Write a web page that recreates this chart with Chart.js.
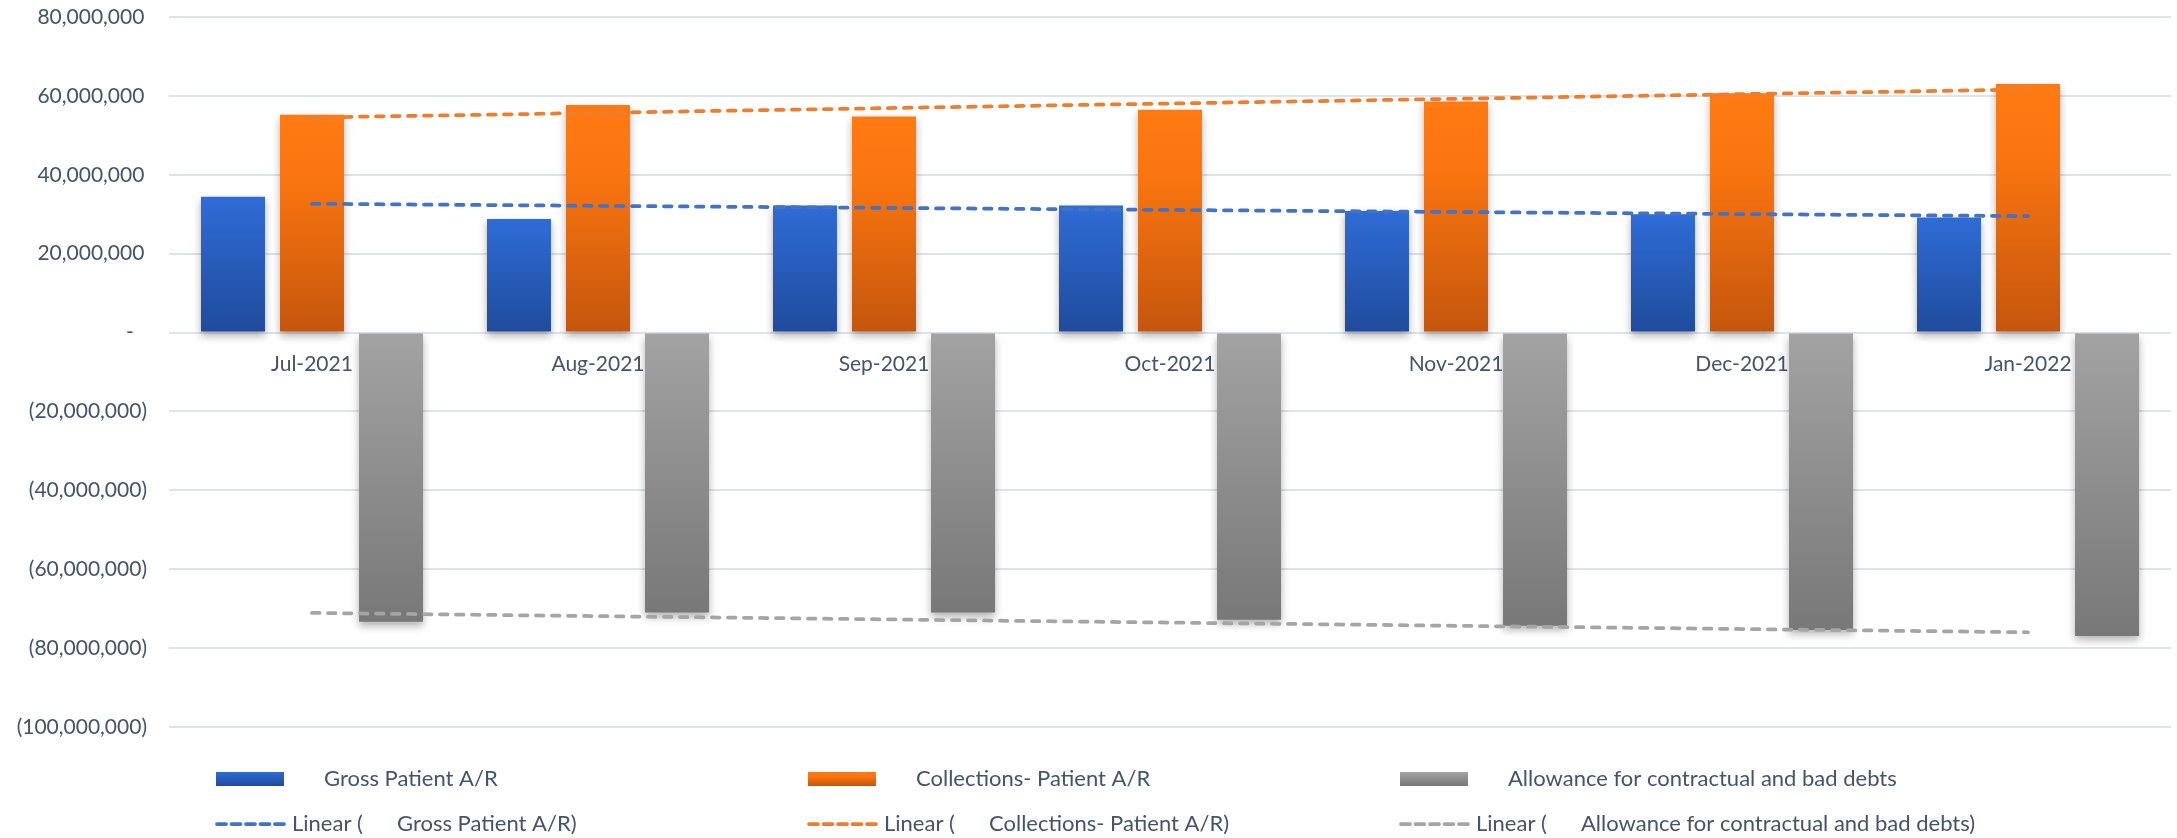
<!DOCTYPE html>
<html>
<head>
<meta charset="utf-8">
<title>Patient A/R</title>
<script src="https://cdn.jsdelivr.net/npm/chart.js@4.4.1/dist/chart.umd.min.js"></script>
<style>
  html, body { margin: 0; padding: 0; background: #ffffff; }
  #wrap { width: 2177px; height: 838px; }
</style>
</head>
<body>
<div id="wrap"><canvas id="chart" width="2177" height="838"></canvas></div>
<script>
// Monthly patient accounts receivable figures
const categories = ['Jul-2021', 'Aug-2021', 'Sep-2021', 'Oct-2021', 'Nov-2021', 'Dec-2021', 'Jan-2022'];
const grossAR = [34400000, 28800000, 32200000, 32200000, 30800000, 30000000, 29200000];
const collectionsAR = [55200000, 57700000, 54800000, 56500000, 58600000, 60700000, 63000000];
const allowance = [-73300000, -71000000, -71000000, -72800000, -74300000, -75400000, -76900000];

const seriesNames = ['Gross Patient A/R', 'Collections- Patient A/R', 'Allowance for contractual and bad debts'];

// Value axis range
const yMin = -100000000;
const yMax = 80000000;
const yStep = 20000000;

const TEXT = '#44546A';
const FONT = 'Lato, "Open Sans", "Liberation Sans", sans-serif';

// Least-squares linear trend over the category index
function linearTrend(values) {
  const n = values.length;
  let sx = 0, sy = 0, sxx = 0, sxy = 0;
  values.forEach((v, i) => { sx += i; sy += v; sxx += i * i; sxy += i * v; });
  const b = (n * sxy - sx * sy) / (n * sxx - sx * sx);
  const a = (sy - b * sx) / n;
  return values.map((_, i) => a + b * i);
}

const gradients = {
  blue:   [[0, '#2F6CD6'], [1, '#1F4B9C']],
  orange: [[0, '#FF7A12'], [0.3, '#FA7510'], [1, '#C4560D']],
  gray:   [[0, '#A3A3A3'], [1, '#787878']]
};

// Vertical gradient running from each bar's top edge to its bottom edge
function barFill(stops) {
  return (ctx) => {
    if (ctx.type !== 'data') return stops[0][1];
    const chart = ctx.chart;
    const y = chart.scales.y;
    if (!y || !chart.chartArea) return stops[0][1];
    const p1 = y.getPixelForValue(ctx.raw);
    const p0 = y.getPixelForValue(0);
    const top = Math.min(p0, p1), bot = Math.max(p0, p1);
    if (!isFinite(top) || !isFinite(bot) || bot - top < 1) return stops[0][1];
    const g = chart.ctx.createLinearGradient(0, top, 0, bot);
    stops.forEach(([o, c]) => g.addColorStop(o, c));
    return g;
  };
}

function fmtTick(v) {
  if (v === 0) return '-\u2002\u2009';
  const s = Math.abs(v).toLocaleString('en-US');
  return v < 0 ? '(' + s + ')' : s + '\u2009';
}

// Soft drop shadow beneath the bars
const barShadow = {
  id: 'barShadow',
  beforeDatasetDraw(chart, args) {
    if (args.meta.type !== 'bar') return;
    const c = chart.ctx;
    c.save();
    c.shadowColor = 'rgba(0,0,0,0.30)';
    c.shadowBlur = 8;
    c.shadowOffsetX = 0;
    c.shadowOffsetY = 4;
  },
  afterDatasetDraw(chart, args) {
    if (args.meta.type !== 'bar') return;
    chart.ctx.restore();
  }
};

// Two-row legend: bar swatches on top, trend line swatches below
const gridLegend = {
  id: 'gridLegend',
  afterDraw(chart, args, opts) {
    const c = chart.ctx;
    const ds = chart.data.datasets;
    const bars = ds.filter(d => d.type === 'bar');
    const lines = ds.filter(d => d.type === 'line');
    c.save();
    c.font = '22px ' + FONT;
    c.fillStyle = TEXT;
    c.textBaseline = 'middle';
    c.textAlign = 'left';
    bars.forEach((d, i) => {
      const x = opts.left + i * opts.colGap;
      const top = opts.row1 - 7;
      const g = c.createLinearGradient(0, top, 0, top + 14);
      d.swatch.forEach(([o, col]) => g.addColorStop(o, col));
      c.fillStyle = g;
      c.fillRect(x, top, 68, 14);
      c.fillStyle = TEXT;
      c.fillText(d.label, x + 108, opts.row1);
    });
    lines.forEach((d, i) => {
      const x = opts.left + i * opts.colGap;
      c.save();
      c.strokeStyle = d.borderColor;
      c.lineWidth = d.borderWidth;
      c.lineCap = 'round';
      c.setLineDash([9, 5.5]);
      c.beginPath();
      c.moveTo(x + 1, opts.row2);
      c.lineTo(x + 68, opts.row2);
      c.stroke();
      c.restore();
      c.fillStyle = TEXT;
      c.fillText('Linear (', x + 76, opts.row2);
      c.fillText(d.source + ')', x + 181, opts.row2);
    });
    c.restore();
  }
};

const trendStyle = {
  type: 'line',
  borderWidth: 3.75,
  borderDash: [7.5, 8.5],
  borderCapStyle: 'round',
  pointRadius: 0,
  pointHoverRadius: 0,
  fill: false,
  tension: 0,
  order: 0
};

new Chart(document.getElementById('chart'), {
  data: {
    labels: categories,
    datasets: [
      { type: 'bar', label: seriesNames[0], data: grossAR, backgroundColor: barFill(gradients.blue), swatch: gradients.blue, order: 1 },
      { type: 'bar', label: seriesNames[1], data: collectionsAR, backgroundColor: barFill(gradients.orange), swatch: gradients.orange, order: 1 },
      { type: 'bar', label: seriesNames[2], data: allowance, backgroundColor: barFill(gradients.gray), swatch: gradients.gray, order: 1 },
      Object.assign({}, trendStyle, { label: 'Linear (' + seriesNames[0] + ')', source: seriesNames[0], data: linearTrend(grossAR), borderColor: '#4472C4' }),
      Object.assign({}, trendStyle, { label: 'Linear (' + seriesNames[1] + ')', source: seriesNames[1], data: linearTrend(collectionsAR), borderColor: '#ED7D31' }),
      Object.assign({}, trendStyle, { label: 'Linear (' + seriesNames[2] + ')', source: seriesNames[2], data: linearTrend(allowance), borderColor: '#A5A5A5' })
    ]
  },
  options: {
    responsive: false,
    animation: false,
    devicePixelRatio: 1,
    layout: { padding: { top: 17, right: 6, bottom: 111, left: 0 } },
    datasets: {
      bar: { categoryPercentage: 0.829, barPercentage: 0.81, borderWidth: 0 }
    },
    scales: {
      x: {
        position: { y: 0 },
        grid: { display: false, drawTicks: false },
        border: { display: false },
        ticks: { color: TEXT, font: { family: FONT, size: 21 }, padding: 19, maxRotation: 0, autoSkip: false }
      },
      y: {
        min: yMin,
        max: yMax,
        afterFit(scale) {
          scale.width = 169;
          scale.paddingTop = 0;
          scale.paddingBottom = 0;
        },
        grid: { color: '#DFE3EA', lineWidth: 2, drawTicks: false },
        border: { display: false },
        ticks: {
          stepSize: yStep,
          color: TEXT,
          font: { family: FONT, size: 21 },
          padding: 22,
          callback: (v) => fmtTick(v)
        }
      }
    },
    plugins: {
      legend: { display: false },
      tooltip: { enabled: false },
      gridLegend: { left: 216, colGap: 592, row1: 779, row2: 824 }
    }
  },
  plugins: [barShadow, gridLegend]
});
</script>
</body>
</html>
